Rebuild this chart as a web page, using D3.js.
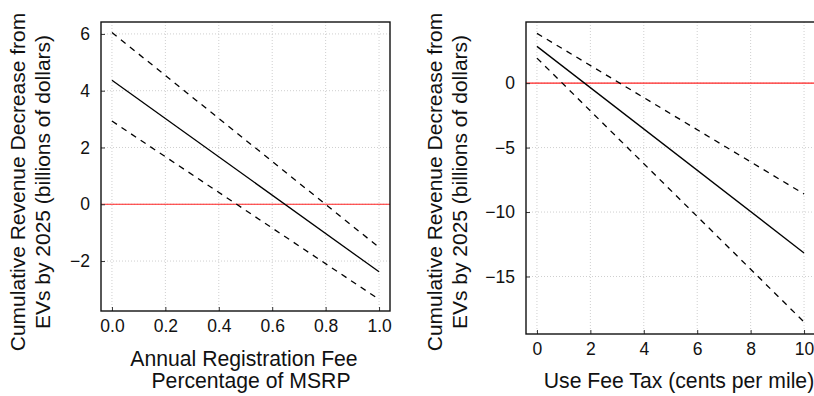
<!DOCTYPE html>
<html>
<head>
<meta charset="utf-8">
<script src="https://cdn.jsdelivr.net/npm/d3@7"></script>
<style>
  body { margin: 0; background: #fff; }
  text { font-family: "Liberation Sans", Arial, sans-serif; }
</style>
</head>
<body>
<div id="chart"></div>
<script>

// left panel: registration fee as share of MSRP
var regFee = [0, 1];
var regMid = [4.37, -2.38];
var regUpper = [6.05, -1.52];
var regLower = [2.93, -3.35];
var regXTicks = [0, 0.2, 0.4, 0.6, 0.8, 1.0];
var regYTicks = [-2, 0, 2, 4, 6];

// right panel: per-mile use fee
var useFee = [0, 10];
var useMid = [2.85, -13.17];
var useUpper = [3.86, -8.6];
var useLower = [1.94, -18.53];
var useXTicks = [0, 2, 4, 6, 8, 10];
var useYTicks = [-15, -10, -5, 0];

var yTitle = ['Cumulative Revenue Decrease from', 'EVs by 2025 (billions of dollars)'];

var width = 814, height = 396;

var svg = d3.select('#chart').append('svg')
  .attr('width', width)
  .attr('height', height);

function drawPanel(p) {
  var x = d3.scaleLinear().domain(p.xDomain).range([p.left, p.right]);
  var y = d3.scaleLinear().domain(p.yDomain).range([p.bottom, p.top]);

  var g = svg.append('g');

  // dotted grid
  g.selectAll('.vgrid')
    .data(p.xTicks)
    .enter().append('line')
    .attr('x1', function (d) { return x(d); })
    .attr('x2', function (d) { return x(d); })
    .attr('y1', p.top)
    .attr('y2', p.bottom)
    .attr('stroke', '#cfcfcf')
    .attr('stroke-dasharray', '1,2');

  g.selectAll('.hgrid')
    .data(p.yTicks)
    .enter().append('line')
    .attr('x1', p.left)
    .attr('x2', p.right)
    .attr('y1', function (d) { return y(d); })
    .attr('y2', function (d) { return y(d); })
    .attr('stroke', '#cfcfcf')
    .attr('stroke-dasharray', '1,2');

  // zero line
  g.append('line')
    .attr('x1', p.left)
    .attr('x2', p.right)
    .attr('y1', y(0))
    .attr('y2', y(0))
    .attr('stroke', '#f22')
    .attr('stroke-width', 1.2);

  var line = d3.line()
    .x(function (d) { return x(d[0]); })
    .y(function (d) { return y(d[1]); });

  var series = [
    { vals: p.mid, dash: null },
    { vals: p.upper, dash: '6,5.5' },
    { vals: p.lower, dash: '6,5.5' }
  ];

  series.forEach(function (s) {
    g.append('path')
      .datum(p.xs.map(function (v, i) { return [v, s.vals[i]]; }))
      .attr('d', line)
      .attr('fill', 'none')
      .attr('stroke', '#000')
      .attr('stroke-width', 1.3)
      .attr('stroke-dasharray', s.dash);
  });

  // axes with small inward ticks
  var xAxis = g.append('g')
    .attr('transform', 'translate(0,' + p.bottom + ')')
    .call(d3.axisBottom(x).tickValues(p.xTicks).tickFormat(p.xFormat)
      .tickSize(-4).tickPadding(9));
  var yAxis = g.append('g')
    .attr('transform', 'translate(' + p.left + ',0)')
    .call(d3.axisLeft(y).tickValues(p.yTicks).tickFormat(d3.format('d'))
      .tickSize(-4).tickPadding(11));

  [xAxis, yAxis].forEach(function (a) {
    a.select('.domain').remove();
    a.selectAll('text')
      .attr('font-size', 17.5)
      .attr('font-family', '"Liberation Sans", Arial, sans-serif')
      .attr('fill', '#111');
    a.selectAll('line').attr('stroke', '#333');
  });

  // frame
  g.append('rect')
    .attr('x', p.left)
    .attr('y', p.top)
    .attr('width', p.right - p.left)
    .attr('height', p.bottom - p.top)
    .attr('fill', 'none')
    .attr('stroke', '#111')
    .attr('stroke-width', 1.4);

  // axis titles
  p.xTitle.forEach(function (t) {
    svg.append('text')
      .attr('x', t.x)
      .attr('y', t.y)
      .attr('text-anchor', 'middle')
      .attr('font-size', 21.2)
      .attr('fill', '#111')
      .text(t.text);
  });

  yTitle.forEach(function (t, i) {
    svg.append('text')
      .attr('transform', 'translate(' + (p.yTitleX + i * 25) + ',182) rotate(-90)')
      .attr('text-anchor', 'middle')
      .attr('font-size', 21)
      .attr('fill', '#111')
      .text(t);
  });
}

drawPanel({
  xs: regFee, mid: regMid, upper: regUpper, lower: regLower,
  xTicks: regXTicks, yTicks: regYTicks,
  xDomain: [-0.041, 1.041], yDomain: [-3.76, 6.42],
  left: 101, right: 390, top: 22, bottom: 311,
  xFormat: d3.format('.1f'),
  xTitle: [
    { text: 'Annual Registration Fee', x: 244, y: 366 },
    { text: 'Percentage of MSRP', x: 251, y: 388 }
  ],
  yTitleX: 25
});

drawPanel({
  xs: useFee, mid: useMid, upper: useUpper, lower: useLower,
  xTicks: useXTicks, yTicks: useYTicks,
  xDomain: [-0.41, 10.41], yDomain: [-19.46, 4.74],
  left: 526, right: 815, top: 22, bottom: 334,
  xFormat: d3.format('d'),
  xTitle: [
    { text: 'Use Fee Tax (cents per mile)', x: 679, y: 388 }
  ],
  yTitleX: 442
});

</script>
</body>
</html>
